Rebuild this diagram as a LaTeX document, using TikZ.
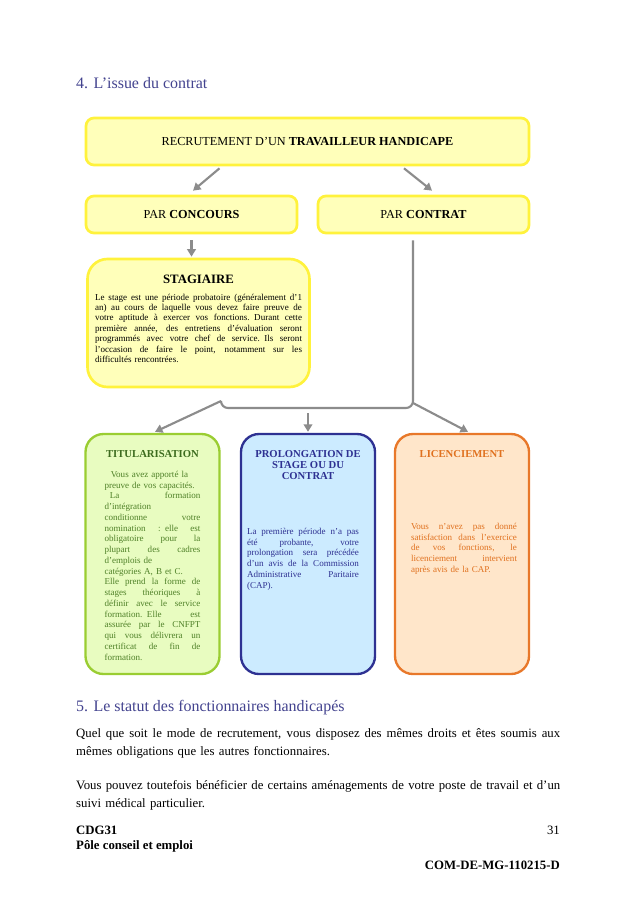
\documentclass[tikz,border=0pt]{standalone}
\usepackage{fontspec}
\setmainfont{Liberation Serif}
\usepackage{tikz}
\usetikzlibrary{positioning, calc, arrows.meta}
\definecolor{figheadblue}{HTML}{43438F}
\definecolor{figyellowline}{HTML}{FFF23C}
\definecolor{figyellowfill}{HTML}{FFFFBA}
\definecolor{figgreenline}{HTML}{9ACD32}
\definecolor{figgreenfill}{HTML}{E8FCC0}
\definecolor{figgreentext}{HTML}{4F8128}
\definecolor{figgreentitle}{HTML}{3C6B1E}
\definecolor{figblueline}{HTML}{2E3192}
\definecolor{figbluefill}{HTML}{CCEBFF}
\definecolor{figbluetext}{HTML}{2E3192}
\definecolor{figorangeline}{HTML}{E8782A}
\definecolor{figorangefill}{HTML}{FFE6CA}
\definecolor{figorangetext}{HTML}{E0711F}
\definecolor{figarrowgray}{HTML}{8C8C8C}
\newlength{\figpx}
\setlength{\figpx}{0.033cm}
\newcommand{\figjline}[1]{\makebox[\hsize][s]{\spaceskip=0pt\relax #1}}

\begin{document}
\begin{tikzpicture}[
  x=\figpx, y=-\figpx,
  figyellowbox/.style={
    rectangle, draw=figyellowline, fill=figyellowfill, line width=2.5pt,
    rounded corners=8\figpx, inner sep=0pt,
    font=\fontsize{11.5}{13}\selectfont,
  },
  figtallbox/.style={
    rectangle, line width=2.2pt, rounded corners=18\figpx,
    minimum width=134\figpx, minimum height=240\figpx, inner sep=0pt,
  },
  figtitle/.style={
    inner sep=0pt, align=center, font=\fontsize{10}{10.4}\selectfont\bfseries,
  },
  figboxtext/.style={
    inner sep=0pt, align=left, font=\fontsize{8.5}{10.1}\selectfont,
  },
  fighead/.style={
    inner sep=0pt, text=figheadblue, font=\fontsize{15}{18}\selectfont,
  },
  figpara/.style={
    inner sep=0pt, align=left, text width=484\figpx,
    font=\fontsize{12}{17.2}\selectfont,
  },
  figfoot/.style={
    inner sep=0pt, font=\fontsize{12}{14}\selectfont,
  },
  figflow/.style={
    draw=figarrowgray, line width=2pt, -{Triangle[length=7pt, width=8pt]},
  },
  figbrace/.style={
    draw=figarrowgray, line width=2pt, rounded corners=7\figpx,
  },
]
\fill[white] (0,0) rectangle (638,903);
\useasboundingbox (0,0) rectangle (638,903);

% section heading
\node[fighead, anchor=base west] (figheadfour) at (76,89) {4. L’issue du contrat};

% recruitment boxes
\node[figyellowbox, minimum width=443\figpx, minimum height=47\figpx] (figrecrut) at (307.5,141.5)
  {RECRUTEMENT D’UN \textbf{TRAVAILLEUR HANDICAPE}};
\node[figyellowbox, minimum width=211\figpx, minimum height=37\figpx] (figconcours) at (191.5,214.5)
  {PAR \textbf{CONCOURS}};
\node[figyellowbox, minimum width=211\figpx, minimum height=37\figpx] (figcontrat) at (423.5,214.5)
  {PAR \textbf{CONTRAT}};

% stagiaire
\node[figyellowbox, rounded corners=20\figpx, minimum width=222\figpx, minimum height=128\figpx] (figstagiaire) at (198.5,323) {};
\node[inner sep=0pt, font=\fontsize{12}{14}\selectfont\bfseries, below=17\figpx of figstagiaire.north] (figstagtitle) {STAGIAIRE};
\node[figboxtext, font=\fontsize{8.5}{9.75}\selectfont, text width=207\figpx, below=36\figpx of figstagiaire.north] (figstagtext) {%
  \figjline{Le stage est une période probatoire (généralement d’1}\\
  \figjline{an) au cours de laquelle vous devez faire preuve de}\\
  \figjline{votre aptitude à exercer vos fonctions. Durant cette}\\
  \figjline{première année, des entretiens d’évaluation seront}\\
  \figjline{programmés avec votre chef de service. Ils seront}\\
  \figjline{l’occasion de faire le point, notamment sur les}\\
  difficultés rencontrées.};

% outcome boxes
\node[figtallbox, draw=figgreenline, fill=figgreenfill] (figtitul) at (152.5,554) {};
\node[figtitle, text=figgreentitle, below=17\figpx of figtitul.north] (figtitultitle) {TITULARISATION};
\node[figboxtext, text=figgreentext, text width=96\figpx, below=38\figpx of figtitul.north] (figtitultext) {%
  \hspace*{0.7em}Vous avez apporté la\\
  preuve de vos capacités.\\
  \figjline{\hspace*{0.6em}La formation}\\
  d’intégration\\
  \figjline{conditionne votre}\\
  \figjline{nomination : elle est}\\
  \figjline{obligatoire pour la}\\
  \figjline{plupart des cadres}\\
  d’emplois de\\
  catégories A, B et C.\\
  \figjline{Elle prend la forme de}\\
  \figjline{stages théoriques à}\\
  \figjline{définir avec le service}\\
  \figjline{formation. Elle est}\\
  \figjline{assurée par le CNFPT}\\
  \figjline{qui vous délivrera un}\\
  \figjline{certificat de fin de}\\
  formation.};

\node[figtallbox, draw=figblueline, fill=figbluefill] (figprolong) at (308,554) {};
\node[figtitle, text=figbluetext, below=17\figpx of figprolong.north] (figprolongtitle) {PROLONGATION DE\\STAGE OU DU\\CONTRAT};
\node[figboxtext, text=figbluetext, text width=112\figpx, below=95\figpx of figprolong.north, xshift=-5\figpx] (figprolongtext) {%
  \figjline{La première période n’a pas}\\
  \figjline{été probante, votre}\\
  \figjline{prolongation sera précédée}\\
  \figjline{d’un avis de la Commission}\\
  \figjline{Administrative Paritaire}\\
  (CAP).};

\node[figtallbox, draw=figorangeline, fill=figorangefill] (figlicenc) at (462,554) {};
\node[figtitle, text=figorangetext, below=17\figpx of figlicenc.north] (figlicenctitle) {LICENCIEMENT};
\node[figboxtext, text=figorangetext, text width=106\figpx, below=90\figpx of figlicenc.north, xshift=2\figpx] (figlicenctext) {%
  \figjline{Vous n’avez pas donné}\\
  \figjline{satisfaction dans l’exercice}\\
  \figjline{de vos fonctions, le}\\
  \figjline{licenciement intervient}\\
  après avis de la CAP.};

% connectors
\coordinate (figbraceL) at (221,401);
\coordinate (figbraceM) at (308,413);
\coordinate (figbraceR) at (413,403);
\draw[figflow] ([xshift=-88\figpx, yshift=-2\figpx]figrecrut.south) -- ([xshift=1.5\figpx, yshift=4\figpx]figconcours.north);
\draw[figflow] ([xshift=96.5\figpx, yshift=-2\figpx]figrecrut.south) -- ([xshift=8.5\figpx, yshift=4\figpx]figcontrat.north);
\draw[figflow] ([yshift=-6\figpx]figconcours.south) -- ($(figconcours.south |- figstagiaire.north)+(0,-1)$);
\draw[figbrace] ([xshift=-10.5\figpx, yshift=-6\figpx]figcontrat.south) |- ($(figbraceL)+(0,7)$) -- (figbraceL);
\draw[figflow] (figbraceL) -- ([xshift=2.5\figpx, yshift=1\figpx]figtitul.north);
\draw[figflow] (figbraceM) -- ([yshift=1\figpx]figprolong.north);
\draw[figflow] (figbraceR) -- ([xshift=6\figpx, yshift=1\figpx]figlicenc.north);

% section 5
\node[fighead, anchor=base west] (figheadfive) at (76,711) {5. Le statut des fonctionnaires handicapés};
\node[figpara, anchor=north west] (figparaone) at (76,728.5) {%
  \figjline{Quel que soit le mode de recrutement, vous disposez des mêmes droits et êtes soumis aux}\\
  mêmes obligations que les autres fonctionnaires.};
\node[figpara, anchor=north west] (figparatwo) at (76,780) {%
  \figjline{Vous pouvez toutefois bénéficier de certains aménagements de votre poste de travail et d’un}\\
  suivi médical particulier.};

% footer
\node[figfoot, font=\fontsize{12}{14}\selectfont\bfseries, anchor=base west] (figcdg) at (76,834) {CDG31};
\node[figfoot, anchor=base east] (figpage) at (560,834) {31};
\node[figfoot, font=\fontsize{12}{14}\selectfont\bfseries, anchor=base west] (figpole) at (76,849.5) {Pôle conseil et emploi};
\node[figfoot, font=\fontsize{12}{14}\selectfont\bfseries, anchor=base east] (figref) at (560,869) {COM-DE-MG-110215-D};
\end{tikzpicture}
\end{document}
